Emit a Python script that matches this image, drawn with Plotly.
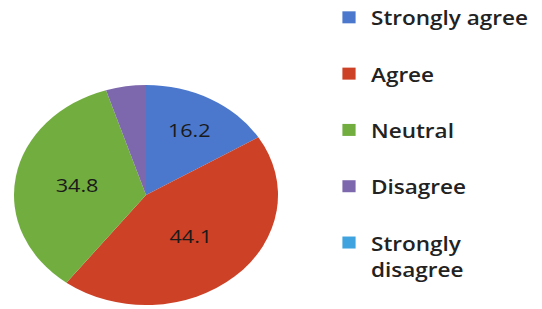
import plotly.graph_objects as go

categories = ["Strongly agree", "Agree", "Neutral", "Disagree", "Strongly disagree"]
legend_labels = ["Strongly agree<br>\u00a0", "Agree<br>\u00a0", "Neutral<br>\u00a0", "Disagree<br>\u00a0", "Strongly<br>disagree"]
values = [16.2, 44.1, 34.8, 4.9, 0.0]
shown_text = ["16.2", "44.1", "34.8", "", ""]
colors = ["#4b78cc", "#cd4127", "#72ad40", "#7e68ad", "#3ea3de"]

W, H = 542, 309
cx, cy, ry, rx = 146, 195, 110, 132
legend_stretch = 1.10

fig = go.Figure(go.Pie(
    labels=legend_labels,
    values=values,
    text=shown_text,
    textinfo="text",
    textposition="inside",
    insidetextorientation="horizontal",
    insidetextfont=dict(family="Open Sans", size=18, color="#1a1a1a"),
    sort=False,
    direction="clockwise",
    rotation=0,
    marker=dict(colors=colors, line=dict(width=0)),
    domain=dict(x=[(cx - ry) / W, (cx + ry) / W], y=[1 - (cy + ry) / H, 1 - (cy - ry) / H]),
    hoverinfo="label+value",
))

fig.update_layout(
    width=W, height=H,
    margin=dict(l=0, r=0, t=0, b=0),
    paper_bgcolor="white",
    plot_bgcolor="white",
    showlegend=True,
    legend=dict(
        x=327 / W, xanchor="left",
        y=1.0, yanchor="top",
        valign="top",
        font=dict(family="Open Sans", size=20.5, color="#222222", weight=600),
        bgcolor="rgba(0,0,0,0)",
    ),
)

post = """
document.body.style.margin = '0';
var gd = document.getElementById('{plot_id}');
function stretchAll(){
  var g = gd.querySelector('.pielayer');
  if(g){ g.setAttribute('transform', 'translate(%d,0) scale(%f,1) translate(-%d,0)'); }
  var sb = gd.querySelector('.legend .scrollbox');
  if(sb){ sb.setAttribute('transform', 'translate(0,-2.5) scale(%f,1)'); }
}
stretchAll();
gd.on('plotly_afterplot', stretchAll);
""" % (cx, rx / ry, cx, legend_stretch)

fig.write_html("out.html", post_script=post, config={"displayModeBar": False})
